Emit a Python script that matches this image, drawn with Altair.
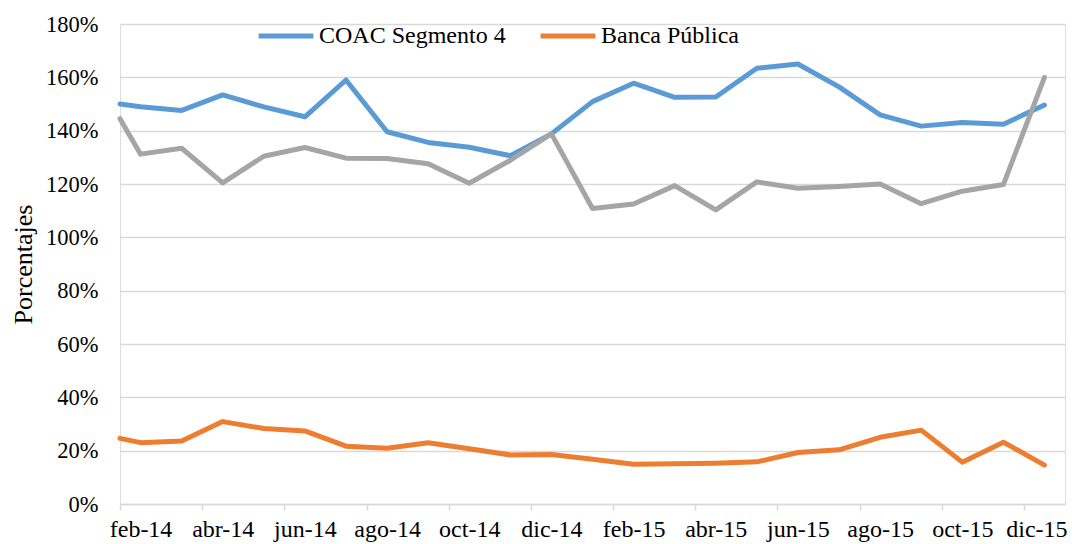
import altair as alt
import pandas as pd

# Month labels (axis), first point sits half a month before feb-14
meses = ["feb-14", "mar-14", "abr-14", "may-14", "jun-14", "jul-14", "ago-14", "sep-14",
         "oct-14", "nov-14", "dic-14", "ene-15", "feb-15", "mar-15", "abr-15", "may-15",
         "jun-15", "jul-15", "ago-15", "sep-15", "oct-15", "nov-15", "dic-15"]
posicion = [0.5] + list(range(1, 24))

coac = [150.0, 149.0, 147.6, 153.4, 148.9, 145.2, 159.0, 139.6, 135.6, 133.8, 130.6, 138.8,
        150.9, 157.8, 152.5, 152.6, 163.4, 165.0, 156.4, 145.9, 141.7, 143.1, 142.4, 149.6]
banca_publica = [24.6, 23.0, 23.6, 30.9, 28.3, 27.4, 21.7, 20.9, 23.0, 20.7, 18.4, 18.6,
                 16.8, 14.9, 15.1, 15.3, 15.8, 19.3, 20.3, 25.0, 27.7, 15.7, 23.2, 14.6]
bancos_privados = [144.5, 131.2, 133.4, 120.4, 130.4, 133.7, 129.7, 129.6, 127.6, 120.3, 128.9, 138.8,
                   110.8, 112.5, 119.4, 110.3, 120.8, 118.4, 119.1, 120.0, 112.6, 117.3, 119.8, 160.0]

series = ["COAC Segmento 4", "Banca Pública", "Bancos Privados"]
colores = ["#5b9bd5", "#ed7d31", "#a5a5a5"]

rows = []
for nombre, valores in zip(series, [coac, banca_publica, bancos_privados]):
    for p, v in zip(posicion, valores):
        rows.append({"pos": p, "valor": v / 100.0, "serie": nombre})
df = pd.DataFrame(rows)

label_list = "[" + ",".join("'%s'" % m for m in meses) + "]"
font = "Liberation Serif"

chart = alt.Chart(df).mark_line(strokeWidth=5, strokeJoin="round", strokeCap="round").encode(
    x=alt.X("pos:Q",
            scale=alt.Scale(domain=[0.5, 23.5], nice=False, zero=False),
            axis=alt.Axis(values=list(range(1, 24, 2)),
                          labelExpr=label_list + "[datum.value - 1]",
                          title=None, grid=False,
                          tickOffset=-20.5,
                          labelOffset=alt.condition("datum.value == 23", alt.value(12.5), alt.value(20.5)),
                          tickSize=6, tickColor="#d9d9d9", tickWidth=1.5,
                          domainColor="#d9d9d9", domainWidth=1.5,
                          labelPadding=7, labelFont=font, labelFontSize=24,
                          labelColor="#000000", labelOverlap=False)),
    y=alt.Y("valor:Q",
            scale=alt.Scale(domain=[0, 1.8], nice=False),
            axis=alt.Axis(values=[i / 10 for i in range(0, 19, 2)], format=".0%",
                          title="Porcentajes", titleFont=font, titleFontSize=26,
                          titleFontWeight="normal", titleColor="#000000", titlePadding=9,
                          labelFont=font, labelFontSize=22.5, labelColor="#000000",
                          labelPadding=22, ticks=False, tickSize=0, domain=False,
                          grid=True, gridColor="#d9d9d9", gridWidth=1.5)),
    color=alt.Color("serie:N",
                    scale=alt.Scale(domain=series, range=colores),
                    sort=series,
                    legend=alt.Legend(title=None, orient="none", direction="horizontal",
                                      values=series[:2],
                                      legendX=136, legendY=-18, padding=0,
                                      symbolType="stroke", symbolSize=3000,
                                      symbolStrokeWidth=5, labelOffset=3,
                                      columnPadding=24, labelFont=font, labelLimit=0,
                                      labelFontSize=24, labelColor="#000000")),
).properties(
    width=945, height=480,
    autosize="none",
    padding={"left": 112, "top": 16, "right": 3, "bottom": 40},
).configure_view(strokeWidth=0).configure(background="white")

chart.save("out.html", embed_options={"renderer": "svg", "actions": False})
